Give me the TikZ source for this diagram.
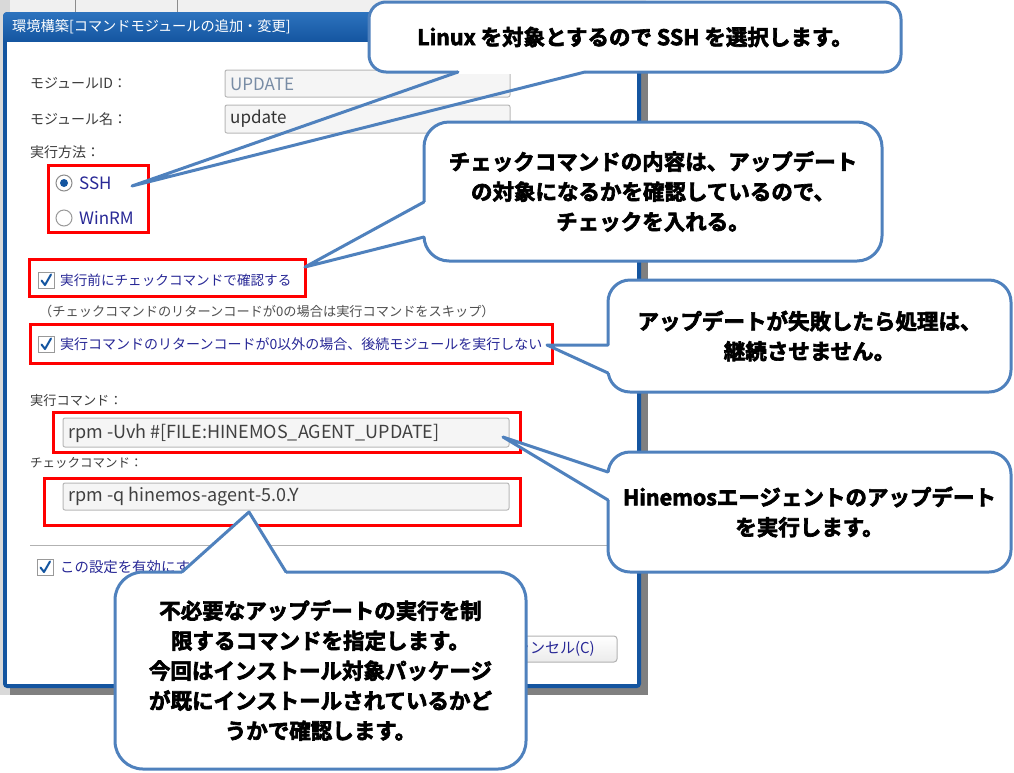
\documentclass[tikz,border=0pt]{standalone}
\usepackage{fontspec}
\setmainfont{Noto Sans CJK JP}[BoldFont={Noto Sans CJK JP Bold}]
\newfontfamily\heavyjp{Noto Sans CJK JP Bold}[BoldFont={Noto Sans CJK JP Bold}, BoldFeatures={FakeBold=3}]
\newcommand\fsz[1]{\fontsize{#1}{#1}\selectfont}
\definecolor{cblue}{RGB}{79,129,189}
\definecolor{winblue}{RGB}{20,85,160}
\definecolor{navy}{RGB}{40,40,150}
\definecolor{lblc}{RGB}{60,60,60}
\definecolor{notec}{RGB}{80,80,80}
\definecolor{roc}{RGB}{120,140,165}
\begin{document}
\begin{tikzpicture}[x=1pt,y=-1pt,
  lbl/.style={anchor=west, inner sep=0pt, text=lblc},
  opt/.style={anchor=west, inner sep=0pt, text=navy},
  fld/.style={draw=black!28, fill=black!4, rounded corners=2pt, line width=1pt},
  chk/.style={draw=black!40, fill=white, line width=1pt},
  tick/.style={draw=winblue, line width=2pt, line cap=round, line join=round},
  redbox/.style={draw=red, line width=3pt},
  cbox/.style={draw=cblue, fill=white, line width=3pt, align=center, inner sep=0pt,
    font=\heavyjp\bfseries\fontsize{21.5}{30}\selectfont},
  ctail/.style={draw=cblue, line width=3pt, line join=round, line cap=round},
  ]
\useasboundingbox (0,0) rectangle (1014,772);
\fill[white] (0,0) rectangle (1014,772);
% screen background behind the dialog
\fill[black!6] (0,0) rectangle (646,12);
\fill[black!15] (0,0) rectangle (10,695);
\draw[black!45, line width=1pt] (75,0) -- (75,12) (177,0) -- (177,12);
% shadow and window
\fill[black!50] (10,20) rectangle (648,695);
\fill[winblue, rounded corners=4pt] (3,12) rectangle (641,688);
\shade[top color={rgb,255:red,45;green,115;blue,190}, bottom color=winblue, rounded corners=4pt] (3,12) rectangle (641,42);
\fill[white] (7,42) rectangle (637,684);
\node[anchor=west, inner sep=0pt, text=white, font=\fsz{14.2}] (title) at (12,27) {環境構築[コマンドモジュールの追加・変更]};

% module id / name
\node[lbl, font=\fsz{14}] (lid) at (30,83) {モジュールID：};
\draw[fld] (225,70) rectangle (510,97);
\node[anchor=west, inner sep=0pt, text=roc, font=\fsz{17}] (vid) at (230,84) {UPDATE};
\node[lbl, font=\fsz{14}] (lname) at (30,119) {モジュール名：};
\draw[fld] (225,105) rectangle (510,133);
\node[anchor=west, inner sep=0pt, text=black!80, font=\fsz{17}] (vname) at (230,119) {update};

% execution method
\node[lbl, font=\fsz{14}] (lmeth) at (30,152) {実行方法：};
\draw[black!45, fill=white, line width=1pt] (64,183) circle[radius=8];
\fill[winblue] (64,183) circle[radius=4];
\node[opt, font=\fsz{17}] (ssh) at (79,183) {SSH};
\draw[black!40, fill=white, line width=1pt] (64,218) circle[radius=8];
\node[opt, font=\fsz{17}] (winrm) at (79,218) {WinRM};
\draw[redbox] (48,165) rectangle (148,232);

% check before
\draw[chk] (38,272) rectangle (54,288);
\draw[tick] (41.5,280.5) -- (45,285) -- (51,274.5);
\node[opt, font=\fsz{13.6}] (cbefore) at (60,280) {実行前にチェックコマンドで確認する};
\draw[redbox] (29,259) rectangle (305,296);
\node[anchor=west, inner sep=0pt, text=notec, font=\fsz{13.2}] (note) at (39,311) {（チェックコマンドのリターンコードが0の場合は実行コマンドをスキップ）};

% stop on nonzero
\draw[chk] (38,336) rectangle (54,352);
\draw[tick] (41.5,344.5) -- (45,349) -- (51,338.5);
\node[opt, font=\fsz{14}] (cstop) at (60,344.5) {実行コマンドのリターンコードが0以外の場合、後続モジュールを実行しない};
\draw[redbox] (30,324) rectangle (552,363);

% commands
\node[lbl, font=\fsz{13.2}] (lexec) at (30,400) {実行コマンド：};
\draw[fld] (63,418) rectangle (509,447);
\node[anchor=west, inner sep=0pt, text=black!75, font=\fsz{18}] (vexec) at (68,433) {rpm -Uvh \#[FILE:HINEMOS\_AGENT\_UPDATE]};
\draw[redbox] (53,412) rectangle (520,452);
\node[lbl, font=\fsz{12.5}] (lcheck) at (30,463) {チェックコマンド：};
\draw[fld] (63,483) rectangle (509,510);
\node[anchor=west, inner sep=0pt, text=black!75, font=\fsz{18}] (vcheck) at (68,497) {rpm -q hinemos-agent-5.0.Y};
\draw[redbox] (44,478) rectangle (520,525);

% separator, enable, button
\draw[black!30, line width=1pt] (30,545) -- (636,545);
\draw[chk] (37,559) rectangle (53,575);
\draw[tick] (40.5,567.5) -- (44,572) -- (50,561.5);
\node[opt, font=\fsz{14.4}] (enable) at (60,567) {この設定を有効にする};
\shade[top color=white, bottom color=black!8, draw=black!30, line width=1pt, rounded corners=3pt] (480,636) rectangle (617,662);
\node[anchor=east, inner sep=0pt, text=navy, font=\fsz{15}] (cancel) at (595,649) {キャンセル(C)};

% ---- callouts ----
% 1
\node[cbox, rounded corners=17pt, minimum width=532pt, minimum height=70pt] (c1) at (635,37) {Linux を対象とするので SSH を選択します。};
\coordinate (t1) at (132,186);
\coordinate (b1a) at (458,72);
\coordinate (b1b) at (585,72);
\draw[white, line width=3.6pt] (b1a) -- (b1b);
\draw[ctail] (b1a) -- (t1) -- (b1b);

% 2
\node[cbox, rounded corners=25pt, minimum width=458pt, minimum height=139pt] (c2) at (653,191.5) {チェックコマンドの内容は、アップデート\\の対象になるかを確認しているので、\\チェックを入れる。};
\coordinate (t2) at (305,267);
\coordinate (b2a) at (424,202);
\coordinate (b2b) at (424,237);
\fill[white] (b2a) -- (t2) -- (b2b) -- cycle;
\draw[white, line width=3.6pt] (b2a) -- (b2b);
\draw[ctail] (b2a) -- (t2) -- (b2b);

% 3
\node[cbox, rounded corners=22pt, minimum width=403pt, minimum height=112pt] (c3) at (809.5,336) {アップデートが失敗したら処理は、\\継続させません。};
\coordinate (t3) at (547,345);
\coordinate (b3a) at (608,345);
\coordinate (b3b) at (608,373);
\fill[white] (b3a) -- (t3) -- (b3b) -- cycle;
\draw[white, line width=3.6pt] (b3a) -- (b3b);
\draw[ctail] (b3a) -- (t3) -- (b3b);

% 4
\node[cbox, rounded corners=22pt, minimum width=403pt, minimum height=120pt] (c4) at (809.5,512) {Hinemosエージェントのアップデート\\を実行します。};
\coordinate (t4) at (503,437);
\coordinate (b4a) at (608,472);
\coordinate (b4b) at (608,500);
\fill[white] (b4a) -- (t4) -- (b4b) -- cycle;
\draw[white, line width=3.6pt] (b4a) -- (b4b);
\draw[ctail] (b4a) -- (t4) -- (b4b);

% 5
\node[cbox, rounded corners=28pt, minimum width=411pt, minimum height=197pt] (c5) at (320.5,670.5) {不必要なアップデートの実行を制\\限するコマンドを指定します。\\今回はインストール対象パッケージ\\が既にインストールされているかど\\うかで確認します。};
\coordinate (t5) at (249,512);
\coordinate (b5a) at (182,572);
\coordinate (b5b) at (286,572);
\fill[white] (b5a) -- (t5) -- (b5b) -- cycle;
\draw[white, line width=3.6pt] (b5a) -- (b5b);
\draw[ctail] (b5a) -- (t5) -- (b5b);
\end{tikzpicture}
\end{document}
